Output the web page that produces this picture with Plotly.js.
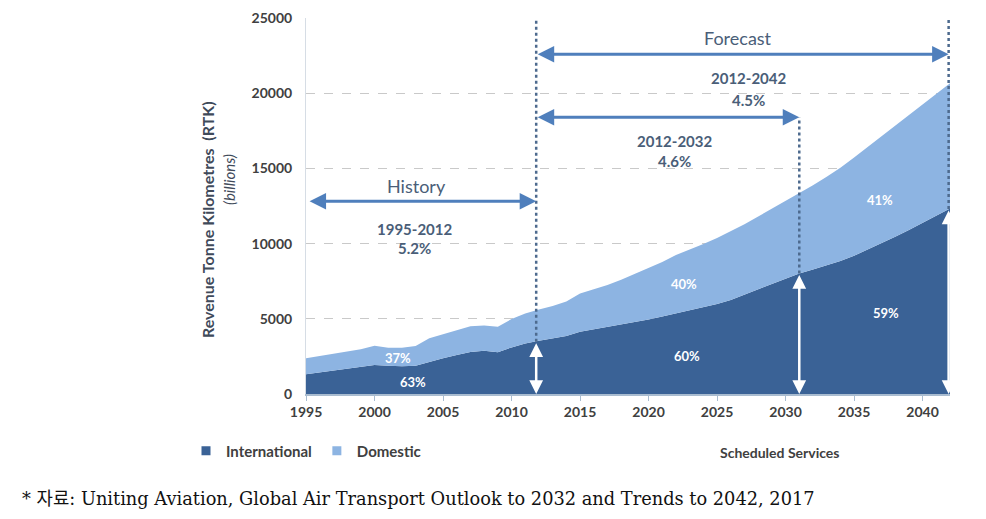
<!DOCTYPE html>
<html>
<head>
<meta charset="utf-8">
<script src="https://cdn.plot.ly/plotly-3.0.1.min.js"></script>
<style>
  html, body { margin: 0; padding: 0; background: #ffffff; }
  #chart { width: 986px; height: 519px; }
</style>
</head>
<body>
<div id="chart"></div>
<script>
// ---- Data (billions RTK) ----
const years = [1995,1996,1997,1998,1999,2000,2001,2002,2003,2004,
               2005,2006,2007,2008,2009,2010,2011,2012,2013,2014,
               2015,2016,2017,2018,2019,2020,2021,2022,2023,2024,
               2025,2026,2027,2028,2029,2030,2031,2032,2033,2034,
               2035,2036,2037,2038,2039,2040,2041,2042];
const totalRTK = [2370,2520,2680,2820,2980,3200,3080,3070,3190,3700,
                  3960,4250,4500,4560,4470,4980,5350,5620,5850,6150,
                  6690,6970,7250,7600,7980,8350,8780,9240,9580,9970,
                  10380,10830,11290,11800,12320,12840,13340,13880,14440,15050,
                  15720,16430,17150,17830,18530,19250,19990,20660];
const internationalRTK = [1320,1450,1560,1680,1800,1930,1880,1850,1880,2140,
                          2370,2600,2800,2870,2780,3100,3360,3540,3680,3850,
                          4140,4300,4470,4630,4800,4960,5150,5360,5600,5800,
                          5980,6250,6600,7000,7350,7700,8020,8280,8550,8850,
                          9200,9600,10010,10450,10900,11370,11850,12340];
const seriesNames = ["International", "Domestic"];
const xTicks = [1995,2000,2005,2010,2015,2020,2025,2030,2035,2040];
const yTicks = [0,5000,10000,15000,20000,25000];

// period markers
const periods = [
  {label:"History", range:"1995-2012", rate:"5.2%"},
  {label:"Forecast", range:"2012-2042", rate:"4.5%"},
  {label:"", range:"2012-2032", rate:"4.6%"}
];
const shares = [
  {text:"37%", x:2001.7, y:2390},
  {text:"63%", x:2002.8, y:800},
  {text:"40%", x:2022.6, y:7310},
  {text:"60%", x:2022.8, y:2520},
  {text:"41%", x:2036.9, y:12890},
  {text:"59%", x:2037.3, y:5380}
];

const darkBlue = "#3a6296";
const lightBlue = "#8db4e2";
const textGray = "#404040";
const noteBlue = "#4a5e78";
const arrowBlue = "#4f7fbc";
const dotBlue = "#4d6a8e";
const FONT = "Lato, 'Open Sans', sans-serif";

const traces = [
  {x: years, y: internationalRTK, type: "scatter", mode: "lines", fill: "tozeroy",
   fillcolor: darkBlue, line: {width: 0, color: darkBlue}, showlegend: false, hoverinfo: "x+y", name: seriesNames[0]},
  {x: years, y: totalRTK, type: "scatter", mode: "lines", fill: "tonexty",
   fillcolor: lightBlue, line: {width: 0, color: lightBlue}, showlegend: false, hoverinfo: "x+y", name: seriesNames[1]},
  {x: [null], y: [null], type: "scatter", mode: "markers", name: seriesNames[0],
   marker: {symbol: "square", size: 9, color: darkBlue}},
  {x: [null], y: [null], type: "scatter", mode: "markers", name: seriesNames[1],
   marker: {symbol: "square", size: 9, color: lightBlue}}
];

const xStart = 2011.8, xMid = 2031, xEnd = 2041.9;

function arrow(x0, y0, x1, y1, color, width) {
  return {x: x1, y: y1, ax: x0, ay: y0, xref: "x", yref: "y", axref: "x", ayref: "y",
          text: "", showarrow: true, arrowside: "end+start", arrowhead: 2, arrowsize: 1.1,
          arrowwidth: width, arrowcolor: color, standoff: 0, startstandoff: 0};
}
function note(x, y, text, size, bold) {
  return {x: x, y: y, text: text, showarrow: false, xanchor: "center", yanchor: "middle",
          font: {family: FONT, size: size, color: noteBlue, weight: bold ? "bold" : "normal"}};
}

const annotations = [
  // history
  note(2003.1, 13850, periods[0].label, 18, false),
  note(2002.9, 11000, periods[0].range, 15, true),
  note(2002.9, 9700, periods[0].rate, 15, true),
  arrow(1995.15, 12820, xStart, 12820, arrowBlue, 3),
  // forecast
  note(2026.5, 23640, periods[1].label, 18, false),
  note(2027.3, 21000, periods[1].range, 15, true),
  note(2027.3, 19550, periods[1].rate, 15, true),
  arrow(xStart, 22590, xEnd, 22590, arrowBlue, 3),
  // 2012-2032
  note(2021.9, 16820, periods[2].range, 15, true),
  note(2021.9, 15490, periods[2].rate, 15, true),
  arrow(xStart, 18400, xMid, 18400, arrowBlue, 3),
  // white arrows
  arrow(xStart, 3480, xStart, 0, "#ffffff", 2.5),
  arrow(xMid, 8020, xMid, 0, "#ffffff", 2.5),
  arrow(xEnd, 12300, xEnd, 0, "#ffffff", 2.5),
  // axis title
  {xref: "paper", yref: "paper", x: (207 - 306) / 644, y: (394 - 220) / 376, xanchor: "center", yanchor: "middle",
   text: "Revenue Tonne Kilometres  (RTK)", textangle: -90, showarrow: false,
   font: {family: FONT, size: 16, color: "#3f4a5a", weight: "bold"}},
  {xref: "paper", yref: "paper", x: (229 - 306) / 644, y: (394 - 180) / 376, xanchor: "center", yanchor: "middle",
   text: "<i>(billions)</i>", textangle: -90, showarrow: false,
   font: {family: FONT, size: 15, color: "#3f4a5a"}},
  // scheduled services
  {xref: "paper", yref: "paper", x: (779 - 306) / 644, y: -(452 - 394) / 376, xanchor: "center", yanchor: "middle",
   text: "Scheduled Services", showarrow: false, font: {family: FONT, size: 14, color: textGray, weight: "bold"}},
  // source
  {xref: "paper", yref: "paper", x: (20 - 306) / 644, y: -(498 - 394) / 376, xanchor: "left", yanchor: "middle",
   text: "* 자료: Uniting Aviation, Global Air Transport Outlook to 2032 and Trends to 2042, 2017",
   showarrow: false, font: {family: "'DejaVu Serif', 'Noto Sans CJK KR', serif", size: 17.8, color: "#111111"}}
];
shares.forEach(s => annotations.push({x: s.x, y: s.y, text: s.text, showarrow: false, xanchor: "center", yanchor: "middle",
  font: {family: FONT, size: 13, color: "#ffffff", weight: "bold"}}));

const shapes = [
  {type: "line", xref: "x", yref: "y", x0: xStart, x1: xStart, y0: 3480, y1: 25000, line: {color: dotBlue, width: 2.5, dash: "dot"}},
  {type: "line", xref: "x", yref: "y", x0: xMid, x1: xMid, y0: 8020, y1: 18400, line: {color: dotBlue, width: 2.5, dash: "dot"}},
  {type: "line", xref: "x", yref: "y", x0: xEnd, x1: xEnd, y0: 12300, y1: 25000, line: {color: dotBlue, width: 2.5, dash: "dot"}}
];

const layout = {
  width: 986, height: 519,
  margin: {l: 306, r: 36, t: 18, b: 125},
  paper_bgcolor: "#ffffff", plot_bgcolor: "#ffffff",
  font: {family: FONT, color: textGray},
  showlegend: true,
  legend: {orientation: "h", x: (186 - 306) / 644, xanchor: "left", y: -(451 - 394) / 376, yanchor: "middle",
           font: {family: FONT, size: 15, color: textGray, weight: "bold"}, itemwidth: 30, traceorder: "normal"},
  xaxis: {range: [1995, 2042], tickvals: xTicks, ticks: "outside", ticklen: 5, tickcolor: "#a9bcd0",
          showline: true, linecolor: "#a9bcd0", linewidth: 1.5, showgrid: false, zeroline: false,
          tickfont: {family: FONT, size: 14, color: textGray, weight: "bold"}, fixedrange: true},
  yaxis: {range: [0, 25000], tickvals: yTicks, tickformat: "d", ticks: "", showline: true, linecolor: "#d6dde5", linewidth: 1,
          showgrid: true, gridcolor: "#c9c9c9", griddash: "dash", gridwidth: 1, zeroline: false,
          ticklabelstandoff: 10,
          tickfont: {family: FONT, size: 14, color: textGray, weight: "bold"}, fixedrange: true},
  annotations: annotations,
  shapes: shapes
};

Plotly.newPlot("chart", traces, layout, {displayModeBar: false, staticPlot: true});
</script>
</body>
</html>
